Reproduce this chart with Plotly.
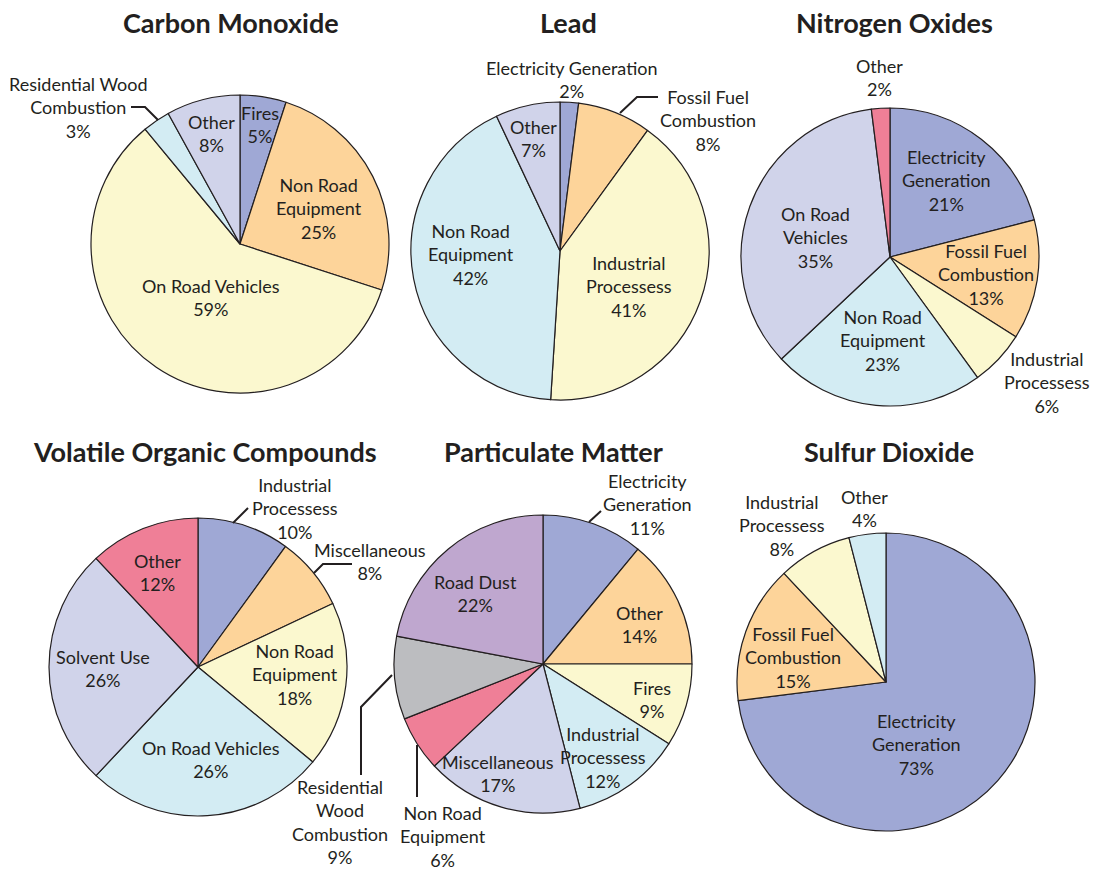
"""
Emission sources by pollutant — six pie charts in a 2x3 grid.
"""
import textwrap
import plotly.graph_objects as go

# ──────────────────────────────────────────────
# Data
# ──────────────────────────────────────────────
CO_LABELS = ["Fires", "Non Road Equipment", "On Road Vehicles", "Residential Wood Combustion", "Other"]
CO_VALUES = [5, 25, 59, 3, 8]

PB_LABELS = ["Electricity Generation", "Fossil Fuel Combustion", "Industrial Processess", "Non Road Equipment", "Other"]
PB_VALUES = [2, 8, 41, 42, 7]

NOX_LABELS = ["Electricity Generation", "Fossil Fuel Combustion", "Industrial Processess", "Non Road Equipment",
              "On Road Vehicles", "Other"]
NOX_VALUES = [21, 13, 6, 23, 35, 2]

VOC_LABELS = ["Industrial Processess", "Miscellaneous", "Non Road Equipment", "On Road Vehicles", "Solvent Use", "Other"]
VOC_VALUES = [10, 8, 18, 26, 26, 12]

PM_LABELS = ["Electricity Generation", "Other", "Fires", "Industrial Processess", "Miscellaneous",
             "Non Road Equipment", "Residential Wood Combustion", "Road Dust"]
PM_VALUES = [11, 14, 9, 12, 17, 6, 9, 22]

SO2_LABELS = ["Electricity Generation", "Fossil Fuel Combustion", "Industrial Processess", "Other"]
SO2_VALUES = [73, 15, 8, 4]

TITLES = ["Carbon Monoxide", "Lead", "Nitrogen Oxides",
          "Volatile Organic Compounds", "Particulate Matter", "Sulfur Dioxide"]

# ──────────────────────────────────────────────
# Style / layout
# ──────────────────────────────────────────────
W, H = 1099, 870
FONT = "Lato, 'Open Sans', sans-serif"
INK = "#231F20"
PALETTE = ["#9FA8D5", "#FDD49A", "#FBF8CF", "#D3ECF3", "#D0D3EA", "#EF7F97", "#BCBDC0", "#BFA7CF"]
R = 149

# pie centre (px), title centre (px)
GEOM = [
    dict(c=(240, 244), t=(231, 22)),
    dict(c=(560, 251), t=(568, 22)),
    dict(c=(890, 257), t=(894, 22)),
    dict(c=(198, 667), t=(205, 452)),
    dict(c=(543, 664), t=(553, 452)),
    dict(c=(886, 682), t=(889, 452)),
]

# label block centre (px) and wrap width, one per slice in data order
LABEL_POS = [
    [(260, 124, 11), (319, 208, 9), (211, 297, 20), (78, 107, 16), (211, 133, 11)],
    [(571, 79, 25), (708, 120, 11), (629, 286, 11), (471, 254, 9), (533, 138, 11)],
    [(946, 181, 11), (986, 274, 11), (1047, 382, 11), (883, 341, 9), (815, 237, 8), (879, 78, 11)],
    [(295, 508, 11), (370, 561, 14), (295, 674, 9), (211, 759, 20), (103, 668, 14), (157, 572, 11)],
    [(647, 504, 11), (639, 624, 11), (652, 699, 11), (603, 757, 11), (498, 773, 14), (443, 836, 9),
     (340, 822, 11), (475, 593, 11)],
    [(916, 744, 11), (793, 657, 11), (782, 525, 11), (864, 508, 11)],
]

# leader lines (px)
LEADERS = [
    [(131, 107), (145, 107), (158, 120)],
    [(620, 113), (637, 97), (658, 97)],
    [(233, 523), (248, 508)],
    [(314, 573), (323, 564), (352, 564)],
    [(589, 522), (601, 511)],
    [(392, 675), (361, 707), (361, 775)],
    [(417, 745), (417, 797)],
]

DATA = [(CO_LABELS, CO_VALUES), (PB_LABELS, PB_VALUES), (NOX_LABELS, NOX_VALUES),
        (VOC_LABELS, VOC_VALUES), (PM_LABELS, PM_VALUES), (SO2_LABELS, SO2_VALUES)]


def px(x, y):
    """Pixel position -> paper coordinates."""
    return x / W, 1 - y / H


fig = go.Figure()
annotations = []

for (labels, values), geom, lpos, title in zip(DATA, GEOM, LABEL_POS, TITLES):
    cx, cy = geom["c"]
    x0, y1 = px(cx - R, cy - R)
    x1, y0 = px(cx + R, cy + R)
    fig.add_trace(go.Pie(
        labels=labels, values=values,
        sort=False, direction="clockwise", rotation=0,
        marker=dict(colors=PALETTE[:len(values)], line=dict(color=INK, width=1.2)),
        textinfo="none", hoverinfo="label+percent",
        domain=dict(x=[x0, x1], y=[y0, y1]),
    ))

    tx, ty = px(*geom["t"])
    annotations.append(dict(
        x=tx, y=ty, xref="paper", yref="paper", showarrow=False,
        text=f"<b>{title}</b>", font=dict(family=FONT, size=27, color=INK),
        xanchor="center", yanchor="middle",
    ))

    for name, val, (lx, ly, wrap) in zip(labels, values, lpos):
        ax, ay = px(lx, ly)
        lines = textwrap.wrap(name, wrap) + [f"{val}%"]
        annotations.append(dict(
            x=ax, y=ay, xref="paper", yref="paper", showarrow=False,
            text="<br>".join(lines), align="center",
            font=dict(family=FONT, size=18, color=INK),
            xanchor="center", yanchor="middle",
        ))

shapes = []
for pts in LEADERS:
    path = " ".join(("M" if i == 0 else "L") + " {:.5f},{:.5f}".format(*px(x, y)) for i, (x, y) in enumerate(pts))
    shapes.append(dict(type="path", path=path, xref="paper", yref="paper",
                       line=dict(color=INK, width=2)))

fig.update_layout(
    width=W, height=H,
    margin=dict(l=0, r=0, t=0, b=0),
    paper_bgcolor="white", plot_bgcolor="white",
    showlegend=False,
    annotations=annotations,
    shapes=shapes,
)

fig.write_html("out.html", config={"displayModeBar": False},
               post_script="document.body.style.margin='0';")
